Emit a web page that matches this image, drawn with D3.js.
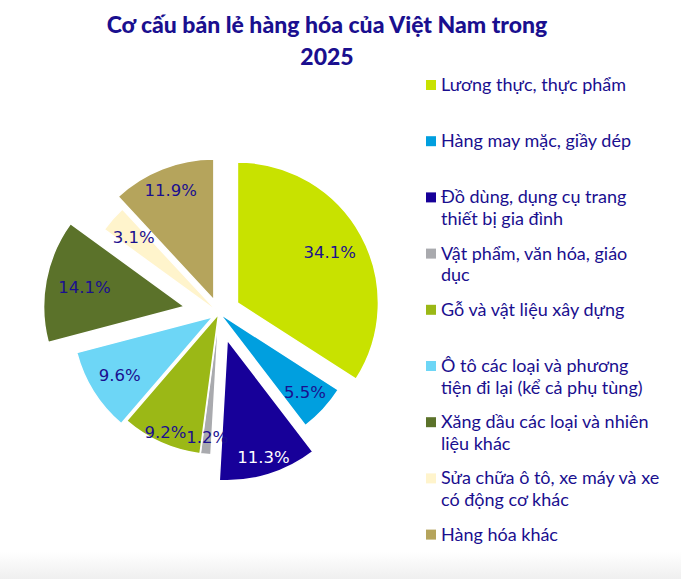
<!DOCTYPE html>
<html>
<head>
<meta charset="utf-8">
<script src="https://cdn.jsdelivr.net/npm/d3@7"></script>
<style>
  html, body { margin: 0; padding: 0; background: #fff; }
  svg { display: block; }
</style>
</head>
<body>
<div id="chart"></div>
<script>
// ---- Data ----
const title = ["Cơ cấu bán lẻ hàng hóa của Việt Nam trong", "2025"];
const categories = [
  "Lương thực, thực phẩm",
  "Hàng may mặc, giầy dép",
  "Đồ dùng, dụng cụ trang\nthiết bị gia đình",
  "Vật phẩm, văn hóa, giáo\ndục",
  "Gỗ và vật liệu xây dựng",
  "Ô tô các loại và phương\ntiện đi lại (kể cả phụ tùng)",
  "Xăng dầu các loại và nhiên\nliệu khác",
  "Sửa chữa ô tô, xe máy và xe\ncó động cơ khác",
  "Hàng hóa khác"
];
const shares = [34.1, 5.5, 11.3, 1.2, 9.2, 9.6, 14.1, 3.1, 11.9];

// ---- Style / layout (not data) ----
const colors = ["#c8e200", "#009fdf", "#170099", "#a9aaae", "#9bb816",
                "#6dd6f6", "#5b722a", "#fff4cc", "#b5a45c"];
const explode = [21, 1, 28, 1, 1, 7, 35, 1, 14];
const labelR  = [105, 116, 123, 124, 130, 110, 102, 113, 118];
const labelFill = (i) => i === 2 ? "#ffffff" : "#1a0f8f";
const textColor = "#1a0f8f";

const W = 681, H = 579;
const cx = 219, cy = 313, R = 141;

const svg = d3.select("#chart").append("svg")
  .attr("width", W).attr("height", H);

// bottom subtle gradient
const defs = svg.append("defs");
const grad = defs.append("linearGradient").attr("id", "bg").attr("x1", 0).attr("x2", 0).attr("y1", 0).attr("y2", 1);
grad.append("stop").attr("offset", "0%").attr("stop-color", "#ffffff");
grad.append("stop").attr("offset", "100%").attr("stop-color", "#efefef");
svg.append("rect").attr("x", 0).attr("y", 552).attr("width", W).attr("height", H - 552).attr("fill", "url(#bg)");

// title
svg.append("text")
  .attr("x", 327).attr("y", 33)
  .attr("text-anchor", "middle")
  .attr("font-family", "Lato, sans-serif")
  .attr("font-weight", 900)
  .attr("font-size", 23)
  .attr("fill", textColor)
  .selectAll("tspan").data(title).join("tspan")
  .attr("x", 327).attr("dy", (d, i) => i === 0 ? 0 : 32)
  .text(d => d);

// pie
const pie = d3.pie().sort(null).value(d => d).startAngle(0).endAngle(2 * Math.PI);
const arcs = pie(shares);
const arc = d3.arc().innerRadius(0).outerRadius(R);
const shift = (d, i) => {
  const a = (d.startAngle + d.endAngle) / 2;
  return [Math.sin(a) * explode[i], -Math.cos(a) * explode[i]];
};

const g = svg.append("g").attr("transform", `translate(${cx},${cy})`);
g.append("g").selectAll("path").data(arcs).join("path")
  .attr("transform", (d, i) => `translate(${shift(d, i)})`)
  .attr("d", arc)
  .attr("fill", (d, i) => colors[i])
  .attr("stroke", "#ffffff")
  .attr("stroke-width", 1.5)
  .attr("stroke-linejoin", "round");

g.append("g").selectAll("text").data(arcs).join("text")
  .attr("transform", (d, i) => {
    const c = d3.arc().innerRadius(labelR[i]).outerRadius(labelR[i]).centroid(d);
    const s = shift(d, i);
    return `translate(${c[0] + s[0]},${c[1] + s[1]})`;
  })
  .attr("text-anchor", "middle")
  .attr("dominant-baseline", "central")
  .attr("font-family", "DejaVu Sans, sans-serif")
  .attr("font-size", 16.5)
  .attr("fill", (d, i) => labelFill(i))
  .text(d => d.data.toFixed(1) + "%");

// legend
const legX = 426, legY0 = 91, legStep = 56.2, lineH = 21.5;
const leg = svg.append("g").selectAll("g").data(categories).join("g")
  .attr("transform", (d, i) => `translate(${legX},${legY0 + i * legStep})`);
leg.append("rect")
  .attr("x", 0).attr("y", -11).attr("width", 10).attr("height", 10)
  .attr("fill", (d, i) => colors[i]);
leg.append("text")
  .attr("font-family", "Lato, sans-serif")
  .attr("font-size", 18)
  .attr("fill", textColor)
  .selectAll("tspan").data(d => d.split("\n")).join("tspan")
  .attr("x", 15).attr("dy", (d, i) => i === 0 ? 0 : lineH)
  .text(d => d);
</script>
</body>
</html>
